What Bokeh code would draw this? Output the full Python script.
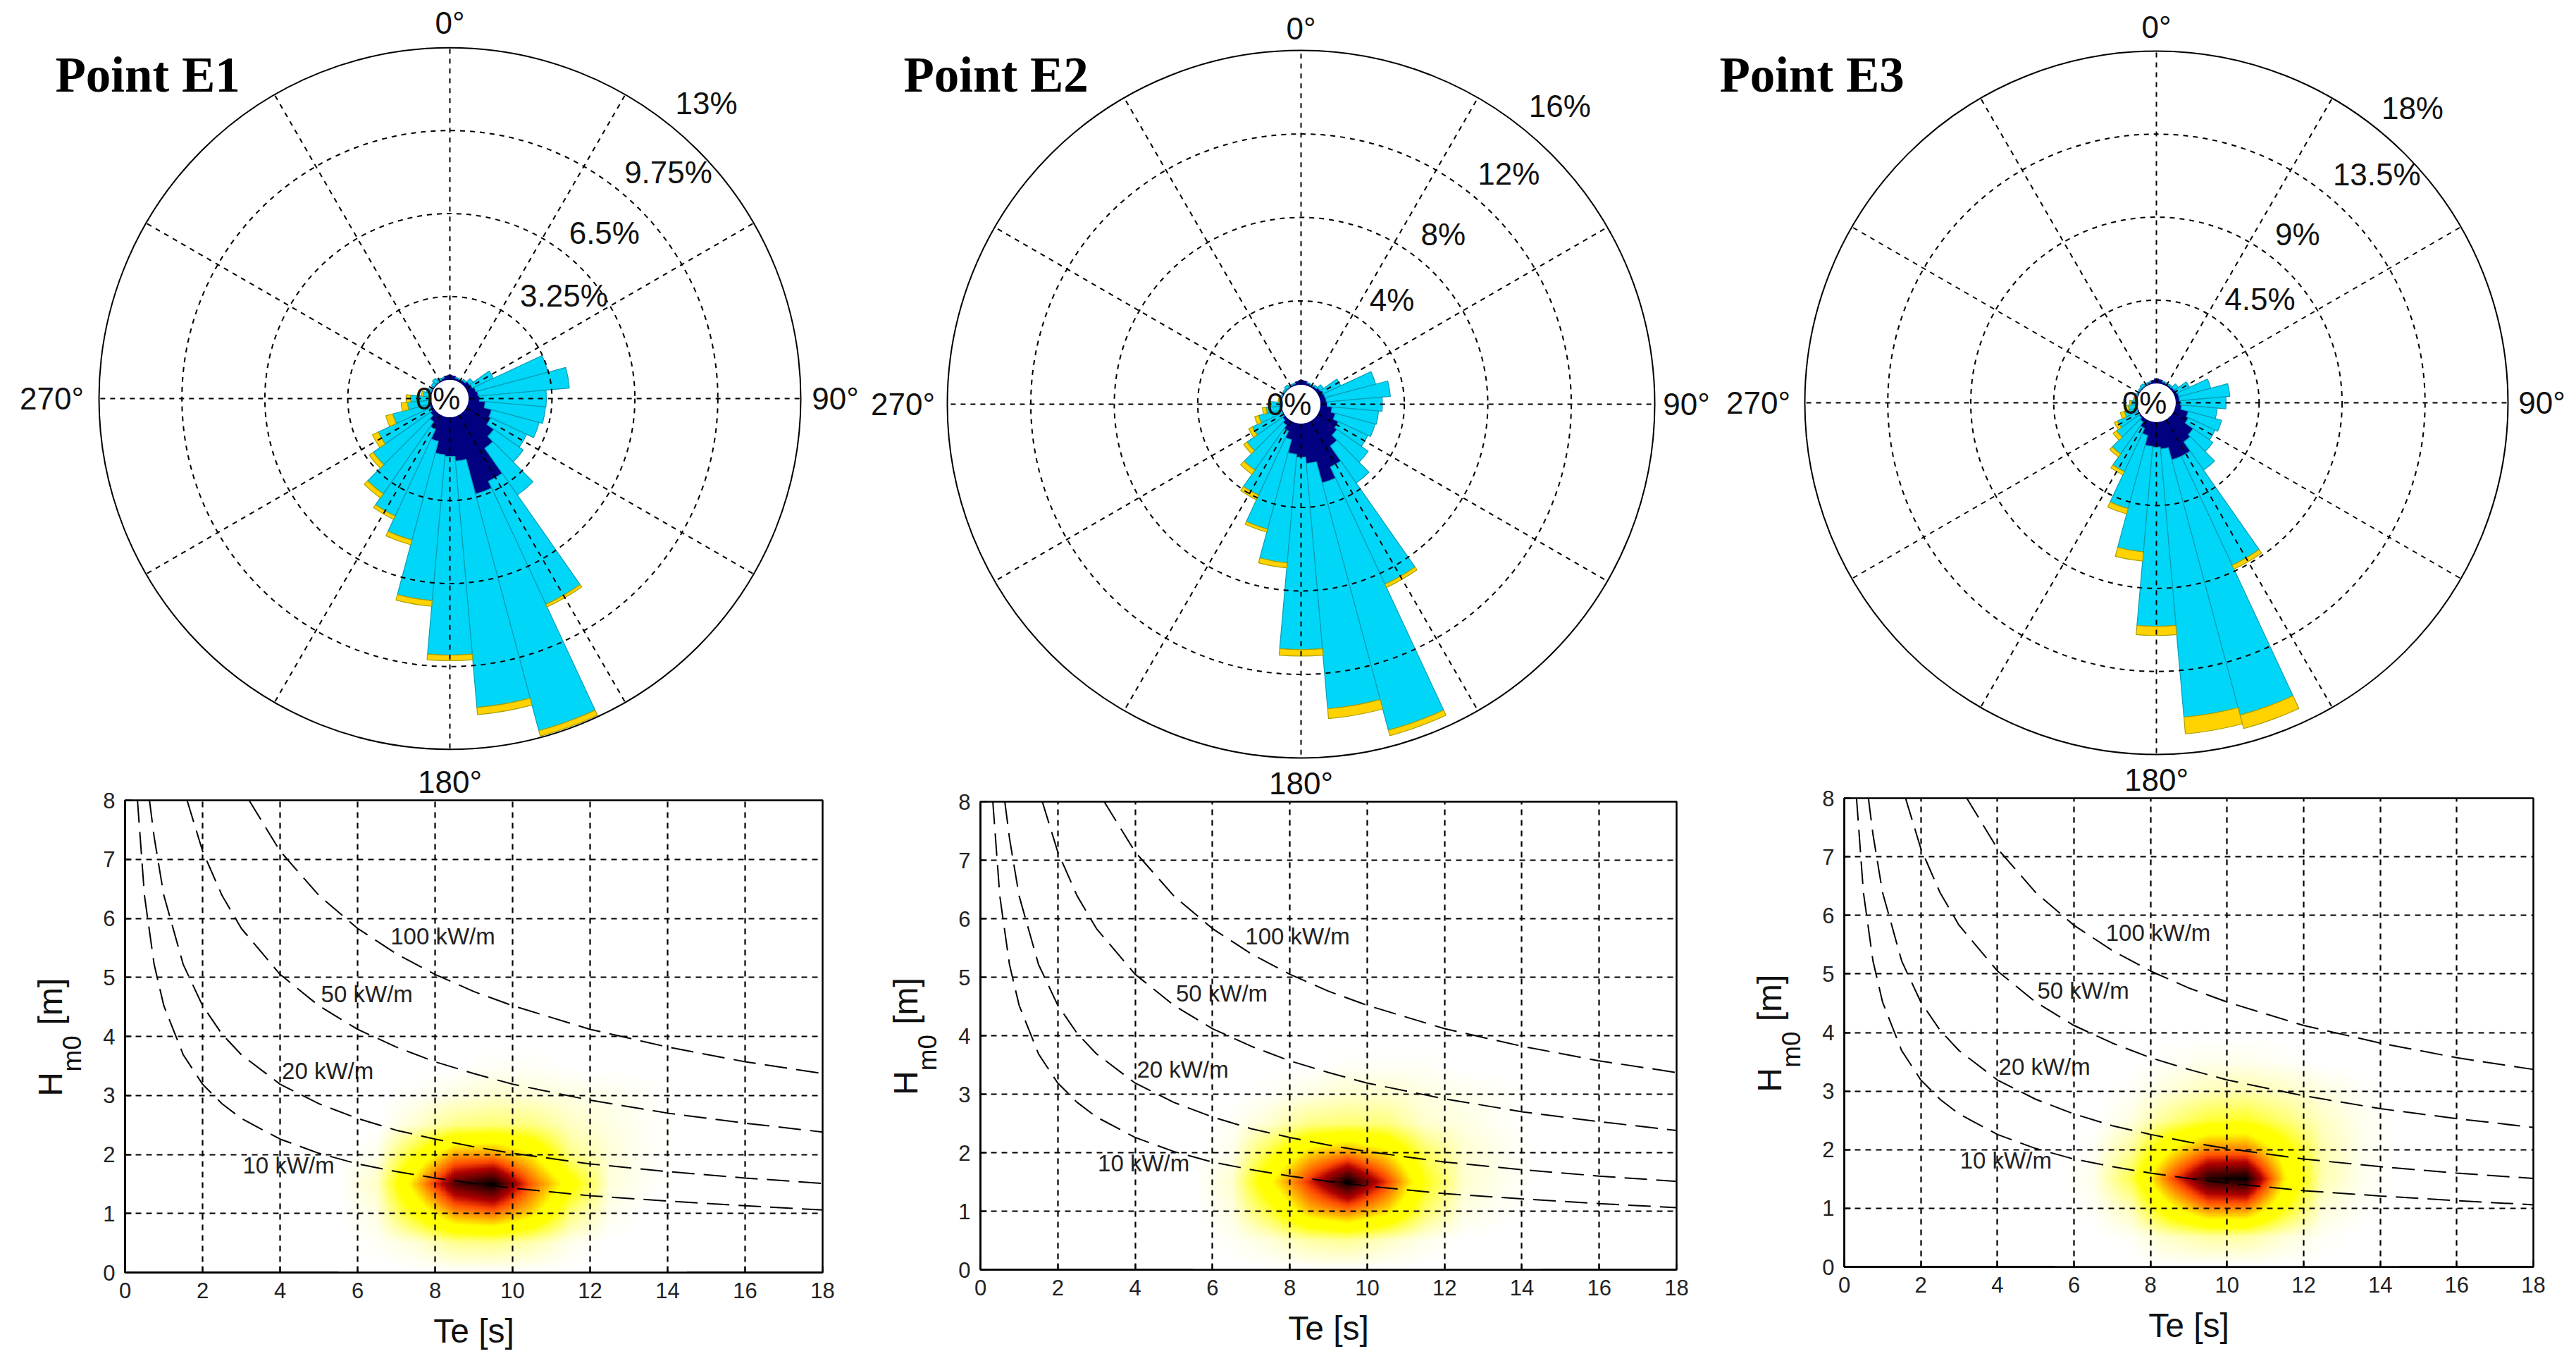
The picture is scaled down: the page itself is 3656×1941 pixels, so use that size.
import numpy as np
from bokeh.core.properties import value
from bokeh.embed import file_html
from bokeh.layouts import column, row
from bokeh.models import FixedTicker, Label, LinearAxis, LinearColorMapper
from bokeh.plotting import figure
from bokeh.resources import INLINE

# wave rose: 10 degree sectors, percent of time per Hm0 class
directions = list(range(0, 360, 10))

e1_low = [.17, .14, .08, .08, .11, .19, .22, .30, .36, .41, .64, .94, 1.02, 1.35, 1.63, 2.82, 3.12, 1.71,
          1.52, 1.46, .99, .58, .36, .19, .11, .08, .06, .03, .03, .03, .03, .03, .03, .03, .08, .14]
e1_mid = [0, 0, .03, .03, .06, .17, .91, 2.93, 3.59, 2.62, 2.37, 1.93, 1.55, 1.41, 2.23, 5.33, 9.60, 9.69,
          7.78, 5.74, 4.00, 3.75, 3.45, 2.73, 2.24, 1.49, .86, .77, .28, .17, .06, .11, .19, .11, .03, 0]
e1_high = [0, 0, 0, 0, 0, 0, 0, 0, 0, 0, 0, 0, 0, 0, 0, .11, .22, .28,
           .22, .22, .19, .14, .19, .19, .25, .28, .25, .17, .06, 0, 0, 0, 0, 0, 0, 0]

e2_low = [.20, .17, .10, .07, .10, .17, .20, .24, .27, .31, .54, .75, 1.02, 1.15, 1.49, 2.37, 2.95, 1.90,
          1.59, 1.46, .81, .47, .27, .14, .03, .03, .03, .03, .03, .03, .03, .03, .03, .03, .07, .14]
e2_mid = [0, 0, .03, .03, .07, .20, .95, 2.51, 3.08, 2.64, 2.24, 1.97, 1.56, 1.83, 2.17, 6.20, 12.27, 11.80,
          9.22, 5.22, 4.44, 3.39, 2.64, 2.07, 1.59, 1.12, .71, .47, .10, .07, .03, .07, .14, .07, .03, 0]
e2_high = [0, 0, 0, 0, 0, 0, 0, 0, 0, 0, 0, 0, 0, 0, 0, .17, .27, .47,
           .31, .24, .14, .24, .24, .20, .20, .20, .17, .07, .03, 0, 0, 0, 0, 0, 0, 0]

e3_low = [.23, .19, .11, .08, .08, .11, .15, .19, .19, .23, .30, .72, .84, 1.37, 1.52, 2.13, 2.13, 1.45,
          1.33, 1.30, .76, .46, .19, .08, .04, .04, .04, .04, .04, .04, .04, .04, .04, .04, .08, .15]
e3_mid = [0, 0, .04, .04, .08, .27, .76, 1.79, 2.74, 2.48, 1.94, 1.87, 1.60, 1.30, 1.87, 6.52, 14.33, 14.59,
          9.72, 5.75, 4.11, 2.59, 2.13, 1.49, 1.22, .69, .42, .27, .11, .08, .04, .08, .15, .08, .04, 0]
e3_high = [0, 0, 0, 0, 0, 0, 0, 0, 0, 0, 0, 0, 0, 0, 0, .23, .76, .91,
           .50, .50, .30, .19, .19, .23, .19, .23, .15, .08, .04, 0, 0, 0, 0, 0, 0, 0]

spokes = list(range(0, 360, 30))
compass_labels = ["0°", "90°", "270°"]

e1_rings = [3.25, 6.5, 9.75, 13]
e1_ring_labels = ["3.25%", "6.5%", "9.75%", "13%"]
e2_rings = [4, 8, 12, 16]
e2_ring_labels = ["4%", "8%", "12%", "16%"]
e3_rings = [4.5, 9, 13.5, 18]
e3_ring_labels = ["4.5%", "9%", "13.5%", "18%"]

# scatter density, normalised, on Te / Hm0 nodes
te_nodes = [5.5, 6.5, 7.5, 8.5, 9.5, 10.5, 11.5, 12.5, 13.5, 14.5]
hm_nodes = [0, .5, 1, 1.5, 2, 2.5, 3, 3.5, 4]

e1_density = [
    [0, 0, 0, 0, 0, 0, 0, 0, 0, 0],
    [0, .01, .04, .11, .12, .08, .02, 0, 0, 0],
    [0, .03, .26, .52, .58, .42, .13, .02, 0, 0],
    [0, .06, .45, .88, 1.0, .60, .30, .04, .01, 0],
    [0, .02, .24, .50, .52, .38, .12, .04, .01, 0],
    [0, 0, .05, .12, .14, .13, .06, .03, .01, 0],
    [0, 0, .01, .03, .05, .04, .03, .02, .01, 0],
    [0, 0, 0, 0, .01, .01, 0, 0, 0, 0],
    [0, 0, 0, 0, 0, 0, 0, 0, 0, 0],
]
e2_density = [
    [0, 0, 0, 0, 0, 0, 0, 0, 0, 0],
    [0, .01, .04, .09, .11, .06, .02, 0, 0, 0],
    [0, .03, .20, .46, .56, .42, .15, .03, .01, 0],
    [0, .05, .36, .68, 1.0, .66, .24, .05, .02, 0],
    [0, .02, .20, .42, .52, .40, .16, .05, .02, 0],
    [0, .01, .05, .12, .14, .13, .05, .03, .01, 0],
    [0, 0, .01, .03, .05, .05, .03, .02, .01, 0],
    [0, 0, 0, 0, .01, .01, .01, 0, 0, 0],
    [0, 0, 0, 0, 0, 0, 0, 0, 0, 0],
]
e3_density = [
    [0, 0, 0, 0, 0, 0, 0, 0, 0, 0],
    [0, 0, .01, .06, .09, .09, .04, .01, 0, 0],
    [0, .01, .07, .34, .55, .55, .25, .04, .01, 0],
    [0, .02, .18, .60, .95, 1.0, .40, .08, .02, 0],
    [0, .01, .10, .36, .55, .55, .30, .08, .02, 0],
    [0, 0, .03, .12, .20, .22, .14, .06, .02, 0],
    [0, 0, .01, .04, .07, .08, .06, .03, .01, 0],
    [0, 0, 0, .01, .02, .02, .01, 0, 0, 0],
    [0, 0, 0, 0, 0, 0, 0, 0, 0, 0],
]

# iso-power lines
te_10 = [.32, .5, .75, 1, 1.5, 2, 2.5, 3, 4, 5, 6, 7, 8, 9, 10, 12, 14, 16, 18]
hm_10 = [8, 6.39, 5.22, 4.52, 3.69, 3.19, 2.86, 2.61, 2.26, 2.02, 1.84, 1.71, 1.60, 1.51, 1.43, 1.30, 1.21, 1.13, 1.06]
te_20 = [.63, .75, 1, 1.5, 2, 2.5, 3, 4, 5, 6, 7, 8, 9, 10, 12, 14, 16, 18]
hm_20 = [8, 7.38, 6.39, 5.22, 4.52, 4.04, 3.69, 3.19, 2.86, 2.61, 2.41, 2.26, 2.13, 2.02, 1.84, 1.71, 1.60, 1.51]
te_50 = [1.6, 2, 2.5, 3, 4, 5, 6, 7, 8, 9, 10, 12, 14, 16, 18]
hm_50 = [8, 7.14, 6.39, 5.83, 5.05, 4.52, 4.12, 3.82, 3.57, 3.37, 3.19, 2.92, 2.70, 2.53, 2.38]
te_100 = [3.2, 4, 5, 6, 7, 8, 9, 10, 12, 14, 16, 18]
hm_100 = [8, 7.14, 6.39, 5.83, 5.40, 5.05, 4.76, 4.52, 4.12, 3.82, 3.57, 3.37]

power_labels = ["10 kW/m", "20 kW/m", "50 kW/m", "100 kW/m"]
power_label_te = [4.22, 5.23, 6.24, 8.2]
power_label_hm = [1.82, 3.42, 4.72, 5.7]

te_ticks = list(range(0, 20, 2))
hm_ticks = list(range(0, 9))

SANS = "Liberation Sans"
CYAN, NAVY, GOLD = "#00d6f7", "#000080", "#ffd200"

# matlab hot, flipped: white - yellow - red - black
t = np.linspace(0, 1, 256)
red = np.clip((1 - t) / .365, 0, 1)
green = np.clip((.746 - t) / .381, 0, 1)
blue = np.clip((.254 - t) / .254, 0, 1)
hot_r = ["#%02x%02x%02x" % (int(r * 255), int(g * 255), int(b * 255)) for r, g, b in zip(red, green, blue)]


def shade_interp(density, steps=24):
    # what shading interp does on screen: the cells stay as read, only the display is smooth
    density = np.array(density, dtype=float)
    rows, cols = density.shape
    xi = np.linspace(0, cols - 1, (cols - 1) * steps + 1)
    yi = np.linspace(0, rows - 1, (rows - 1) * steps + 1)
    across = np.array([np.interp(xi, np.arange(cols), r) for r in density])
    return np.array([np.interp(yi, np.arange(rows), c) for c in across.T]).T


def rose(low, mid, high, rings, ring_labels, title, tile, centre, radius, hole, label_bearing, label_pad, title_at):
    x0, x1, y0, y1 = tile
    cx, cy = centre
    rho_max = rings[-1] + hole
    scale = radius / rho_max
    p = figure(width=x1 - x0, height=y1 - y0, output_backend="svg", toolbar_location=None,
               x_range=((x0 - cx) / scale, (x1 - cx) / scale), y_range=((cy - y1) / scale, (cy - y0) / scale),
               min_border=0, outline_line_color=None, x_axis_type=None, y_axis_type=None)
    p.grid.visible = False

    d = np.array(directions)
    start = np.radians(90 - d - 5)
    end = np.radians(90 - d + 5)
    base = hole + np.zeros(len(d))
    for vals, fill, edge in ((low, NAVY, NAVY), (mid, CYAN, "#0a9db5"), (high, GOLD, "#a8a000")):
        vals = np.array(vals)
        keep = vals > 0
        p.annular_wedge(x=0, y=0, inner_radius=base[keep], outer_radius=(base + vals)[keep],
                        start_angle=start[keep], end_angle=end[keep],
                        fill_color=fill, line_color=edge, line_width=1.2)
        base = base + vals

    # rings and spokes sit over the wedges
    rho = [r + hole for r in rings]
    p.circle(x=0, y=0, radius=rho[:-1], fill_color=None, line_color="black", line_width=2, line_dash="7 7")
    p.circle(x=0, y=0, radius=rho[-1], fill_color=None, line_color="black", line_width=2)
    ang = np.radians(90 - np.array(spokes))
    p.segment(x0=hole * np.cos(ang), y0=hole * np.sin(ang), x1=rho_max * np.cos(ang), y1=rho_max * np.sin(ang),
              line_color="black", line_width=2, line_dash="7 7")

    # ring labels, up and to the right of the 45 degree line
    lab_a = np.radians(90 - np.array(label_bearing))
    lab_r = np.array(rho) + np.array(label_pad) / scale
    p.text(x=lab_r * np.cos(lab_a), y=lab_r * np.sin(lab_a), text=ring_labels, text_font=value(SANS),
           text_font_size="44px", text_align="center", text_baseline="middle", text_color="#111111")
    p.text(x=[-17 / scale], y=[0], text=["0%"], text_font=value(SANS), text_font_size="44px",
           text_align="center", text_baseline="middle", text_color="#111111")
    p.text(x=[0, 547 / scale, -565 / scale], y=[533 / scale, 0, 0], text=compass_labels,
           text_font=value(SANS), text_font_size="44px", text_align="center", text_baseline="middle",
           text_color="#111111")
    p.text(x=[title_at[0] / scale], y=[title_at[1] / scale], text=[title], text_font=value("Liberation Serif"),
           text_font_style="bold", text_font_size="71px", text_align="left", text_baseline="alphabetic")
    return p


def text_axis(labels, size, standoff, orientation):
    # an axis with no line or ticks, only used to hold text outside the frame
    return LinearAxis(ticker=FixedTicker(ticks=list(labels)), major_label_overrides=labels,
                      axis_line_color=None, major_tick_line_color=None, minor_tick_line_color=None,
                      major_tick_out=0, major_tick_in=0, major_label_standoff=standoff,
                      major_label_orientation=orientation, major_label_text_font=SANS,
                      major_label_text_font_size=size, major_label_text_color="#111111")


def scatter_panel(density, tile, frame, rose_x):
    tx0, tx1, ty0, ty1 = tile
    fx0, fx1, fy0, fy1 = frame
    p = figure(width=tx1 - tx0, height=ty1 - ty0, output_backend="svg", toolbar_location=None,
               x_range=(0, 18), y_range=(0, 8),
               min_border_left=fx0 - tx0, min_border_right=tx1 - fx1, min_border_top=fy0 - ty0,
               min_border_bottom=ty1 - fy1, x_axis_label="Te [s]",
               outline_line_color="black", outline_line_width=2.5)

    mapper = LinearColorMapper(palette=hot_r, low=0, high=1)
    p.image(image=[shade_interp(density)], x=te_nodes[0], y=hm_nodes[0],
            dw=te_nodes[-1] - te_nodes[0], dh=hm_nodes[-1] - hm_nodes[0], color_mapper=mapper)

    for te, hm in ((te_10, hm_10), (te_20, hm_20), (te_50, hm_50), (te_100, hm_100)):
        p.line(te, hm, line_color="black", line_width=2, line_dash="32 13")

    p.xaxis.ticker = FixedTicker(ticks=te_ticks)
    p.yaxis.ticker = FixedTicker(ticks=hm_ticks)
    p.grid.grid_line_color = "black"
    p.grid.grid_line_width = 2.2
    p.grid.grid_line_dash = "8 7"
    p.grid.level = "overlay"
    for ax in (p.xaxis[0], p.yaxis[0]):
        ax.major_label_text_font = SANS
        ax.major_label_text_font_size = "31px"
        ax.major_label_text_color = "#222222"
        ax.major_tick_in = 9
        ax.major_tick_out = 0
        ax.minor_tick_line_color = None
        ax.axis_line_color = "black"
        ax.axis_line_width = 2.5
        ax.major_tick_line_color = "black"
        ax.major_tick_line_width = 2
        ax.major_label_standoff = 14
    p.xaxis.axis_label_text_font = SANS
    p.xaxis.axis_label_text_font_size = "48px"
    p.xaxis.axis_label_text_font_style = "normal"
    p.xaxis.axis_label_text_color = "#111111"
    p.xaxis.axis_label_standoff = 17

    for txt, te, hm in zip(power_labels, power_label_te, power_label_hm):
        p.add_layout(Label(x=te, y=hm, text=txt, text_font=SANS, text_font_size="33px", text_align="center",
                           text_baseline="middle", text_color="#222222"))

    # Hm0 label with its subscript, rotated
    p.add_layout(text_axis({3.71: "m0"}, "37px", 20, "parallel"), "left")
    p.add_layout(text_axis({3.19: "H", 4.59: "[m]"}, "48px", -19, "parallel"), "left")
    # the rose's 180 degree label hangs over this panel
    rose_te = round((rose_x - fx0) * 18 / (fx1 - fx0), 3)
    p.add_layout(text_axis({rose_te: "180°"}, "44px", 2, "horizontal"), "above")
    # own column, so the row does not line the three frames up
    return column(p)


ROW_SPLIT = 1077
top = row(
    rose(e1_low, e1_mid, e1_high, e1_rings, e1_ring_labels, "Point E1", (0, 1225, 0, ROW_SPLIT), (638, 565), 498, .75,
         [48, 43, 44, 41], [73, 59, 66, 57], (-560, 460)),
    rose(e2_low, e2_mid, e2_high, e2_rings, e2_ring_labels, "Point E2", (1225, 2438, 0, ROW_SPLIT), (1846, 573), 502, .95,
         [41, 40, 42, 41], [50, 49, 57, 58], (-564, 468)),
    rose(e3_low, e3_mid, e3_high, e3_rings, e3_ring_labels, "Point E3", (2438, 3640, 0, ROW_SPLIT), (3060, 571), 499, 1.07,
         [45, 40, 44, 41], [62, 48, 69, 55], (-620, 466)),
)
bottom = row(
    scatter_panel(e1_density, (0, 1225, ROW_SPLIT, 1933), (177, 1167, 1135, 1805), 638),
    scatter_panel(e2_density, (1225, 2436, ROW_SPLIT, 1933), (1391, 2379, 1137, 1801), 1846),
    scatter_panel(e3_density, (2436, 3640, ROW_SPLIT, 1933), (2617, 3595, 1132, 1797), 3060),
)
page = column(top, bottom, spacing=0)

open("out.html", "w").write(file_html(page, INLINE))
